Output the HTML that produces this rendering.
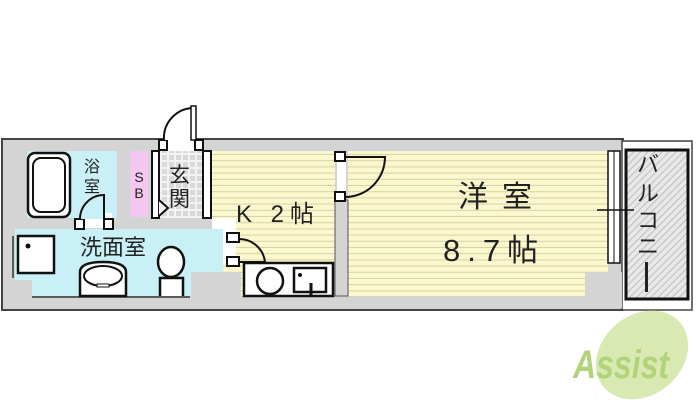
<!DOCTYPE html>
<html><head><meta charset="utf-8"><style>
html,body{margin:0;padding:0;background:#fff;width:700px;height:415px;overflow:hidden}
svg{display:block}
text{font-family:"Liberation Sans","Noto Sans CJK JP",sans-serif;fill:#222}
</style></head><body>
<svg width="700" height="415" viewBox="0 0 700 415" xmlns="http://www.w3.org/2000/svg">
<defs>
<pattern id="st" width="6" height="6.2" patternUnits="userSpaceOnUse"><rect width="6" height="6.2" fill="#fbf7cf"/><rect y="5.2" width="6" height="1" fill="#d8d3a0"/></pattern>
<pattern id="ht" width="5" height="5" patternUnits="userSpaceOnUse" patternTransform="rotate(45)"><rect width="5" height="5" fill="#e8e8e8"/><rect width="1" height="5" fill="#bdbdbd"/></pattern>
<pattern id="tl" width="7" height="7" patternUnits="userSpaceOnUse"><rect width="7" height="7" fill="#f2f2f2"/><rect x="1" y="1" width="5" height="5" fill="#d9d9d9"/></pattern>
</defs>
<rect x="2" y="139" width="621" height="171" fill="#d4d4d4" stroke="#444" stroke-width="2"/>
<rect x="622" y="141" width="70" height="169" fill="#fff" stroke="#444" stroke-width="1.5"/>
<rect x="626" y="150" width="62" height="149" fill="url(#ht)" stroke="#111" stroke-width="3"/>
<rect x="348" y="151" width="260" height="145" fill="url(#st)"/>
<rect x="585" y="272" width="37" height="36" fill="#d4d4d4"/>
<rect x="608" y="151" width="12" height="112" fill="#fff" stroke="#111" stroke-width="1.5"/>
<line x1="614" y1="151" x2="614" y2="263" stroke="#111" stroke-width="1"/>
<line x1="597" y1="210" x2="634" y2="210" stroke="#111" stroke-width="1.5"/>
<rect x="212" y="151" width="123" height="145" fill="url(#st)"/>
<rect x="335" y="200" width="13" height="96" fill="#d4d4d4" stroke="#555" stroke-width="1"/>
<rect x="337" y="152" width="9" height="48" fill="#fff"/>
<rect x="335" y="152" width="10" height="9" fill="#fff" stroke="#111" stroke-width="2"/>
<rect x="335" y="192" width="10" height="9" fill="#fff" stroke="#111" stroke-width="2"/>
<path d="M345 157 H385 A40 40 0 0 1 345 197" fill="none" stroke="#111" stroke-width="2"/>
<rect x="244" y="263" width="89" height="33" fill="#fff" stroke="#111" stroke-width="2.5"/>
<circle cx="270" cy="281" r="13" fill="#fff" stroke="#111" stroke-width="2.5"/>
<rect x="294" y="268" width="32" height="24" fill="#fff" stroke="#111" stroke-width="2.5"/>
<circle cx="300" cy="275" r="2" fill="#111"/>
<line x1="311" y1="283" x2="311" y2="295" stroke="#111" stroke-width="3"/>
<rect x="212" y="218" width="24" height="45" fill="#fff"/>
<rect x="227" y="233" width="12" height="9" fill="#fff" stroke="#111" stroke-width="2"/>
<rect x="227" y="257" width="12" height="9" fill="#fff" stroke="#111" stroke-width="2"/>
<path d="M239 239 A26 26 0 0 1 265 262 H239" fill="none" stroke="#111" stroke-width="2"/>
<rect x="15" y="229" width="208" height="67" fill="#c8f0f6"/>
<rect x="15" y="280" width="17" height="16" fill="#d4d4d4"/>
<rect x="191" y="272" width="50" height="24" fill="#d4d4d4"/>
<rect x="193" y="229" width="30" height="43" fill="#c8f0f6"/>
<line x1="13" y1="236" x2="13" y2="278" stroke="#333" stroke-width="1.5"/>
<line x1="32" y1="297" x2="190" y2="297" stroke="#333" stroke-width="1.5"/>
<rect x="18" y="236" width="36" height="37" fill="#fff" stroke="#111" stroke-width="2.5"/>
<circle cx="28" cy="246" r="2.5" fill="#111"/>
<path d="M80 296 V272 Q80 262 103 262 Q126 262 126 272 V296 Z" fill="#fff" stroke="#111" stroke-width="2.5"/>
<ellipse cx="103" cy="276" rx="19" ry="10" fill="#fff" stroke="#111" stroke-width="2"/>
<rect x="97" y="284" width="12" height="3" fill="#fff" stroke="#111" stroke-width="1"/>
<ellipse cx="171" cy="262" rx="13" ry="15" fill="#fff" stroke="#111" stroke-width="2.5"/>
<path d="M160 296 V278 H183 V296" fill="#fff" stroke="#111" stroke-width="2.5"/>
<text x="80" y="255" font-size="22">洗面室</text>
<rect x="27" y="151" width="90" height="67" fill="#c8f0f6"/>
<rect x="28" y="153" width="42" height="64" rx="7" fill="#fff" stroke="#111" stroke-width="2.5"/>
<rect x="33" y="158" width="32" height="54" rx="8" fill="#fff" stroke="#111" stroke-width="2"/>
<text x="84" y="172" font-size="16">浴</text>
<text x="84" y="192" font-size="16">室</text>
<rect x="80" y="213" width="32" height="15" fill="#fff"/>
<rect x="75" y="219" width="9" height="10" fill="#fff" stroke="#111" stroke-width="2"/>
<rect x="104" y="219" width="9" height="10" fill="#fff" stroke="#111" stroke-width="2"/>
<path d="M80 219 A24 24 0 0 1 104 195 V219" fill="#c8f0f6" stroke="#111" stroke-width="2"/>
<rect x="130" y="151" width="18" height="66" fill="#f5c6ee"/>
<text x="139" y="182" font-size="14" text-anchor="middle">S</text>
<text x="139" y="198" font-size="14" text-anchor="middle">B</text>
<rect x="152" y="151" width="50" height="67" fill="url(#tl)"/>
<rect x="152" y="151" width="7" height="67" fill="#fff" stroke="#111" stroke-width="2"/>
<rect x="203" y="151" width="8" height="67" fill="#fff" stroke="#111" stroke-width="2"/>
<path d="M159 200 L168 208 L159 216" fill="#fff" stroke="#111" stroke-width="2"/>
<text x="169" y="182" font-size="21">玄</text>
<text x="169" y="206" font-size="21">関</text>
<rect x="162" y="139" width="34" height="12" fill="#fff"/>
<rect x="159" y="140" width="8" height="10" fill="#fff" stroke="#111" stroke-width="2"/>
<rect x="195" y="140" width="8" height="10" fill="#fff" stroke="#111" stroke-width="2"/>
<path d="M164 140 A30 30 0 0 1 194 108 V140" fill="#fff" stroke="#111" stroke-width="2"/>
<rect x="191" y="106" width="5" height="34" fill="#fff" stroke="#111" stroke-width="1.5"/>
<text x="236" y="222" font-size="24" letter-spacing="6">K 2帖</text>
<text x="458" y="207" font-size="30" letter-spacing="14">洋室</text>
<text x="443" y="261" font-size="31" letter-spacing="7">8.7帖</text>
<text font-size="22" x="648" y="172" text-anchor="middle">バ</text>
<text font-size="22" x="648" y="201" text-anchor="middle">ル</text>
<text font-size="22" x="648" y="228" text-anchor="middle">コ</text>
<text font-size="22" x="648" y="254" text-anchor="middle">ニ</text>
<rect x="645" y="262" width="3" height="30" fill="#222"/>
<ellipse cx="642" cy="355" rx="50" ry="40" transform="rotate(-40 642 355)" fill="#d8e9b2"/>
<text x="0" y="0" font-size="40" font-weight="bold" font-style="italic" style="fill:#b3d37a" transform="translate(573 378) scale(0.8 1)">Assist</text>
</svg>
</body></html>
